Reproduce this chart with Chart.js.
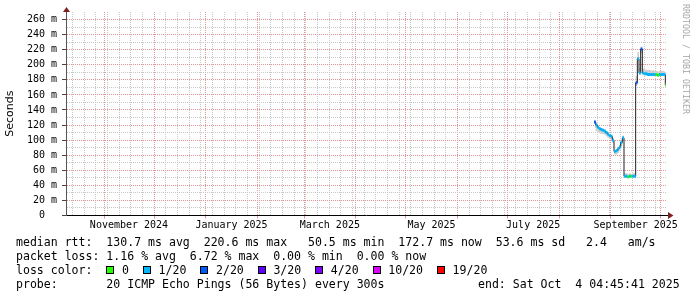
<!DOCTYPE html>
<html>
<head>
<meta charset="utf-8">
<title>Smokeping median RTT</title>
<script src="https://cdn.jsdelivr.net/npm/chart.js@4/dist/chart.umd.min.js"></script>
<style>
html,body{margin:0;padding:0;background:#fff;}
#wrap{position:relative;width:697px;height:297px;overflow:hidden;background:#fff;}
#chart{position:absolute;left:0;top:0;}
.ln{position:absolute;left:16px;font-family:"DejaVu Sans Mono",monospace;font-size:11.55px;line-height:14px;white-space:pre;color:#000;}
.box{display:inline-block;width:6px;height:6px;border:1px solid #000;margin-right:7.7px;}
#wm{position:absolute;left:691px;top:4px;transform-origin:0 0;transform:rotate(90deg);font-family:"DejaVu Sans Mono",monospace;font-size:8.3px;line-height:10px;color:#a8a8a8;white-space:pre;}
</style>
</head>
<body>
<div id="wrap">
<canvas id="chart" width="697" height="297"></canvas>
<div class="ln" id="l1" style="top:234.5px"></div>
<div class="ln" id="l2" style="top:248.5px"></div>
<div class="ln" id="l3" style="top:262.5px"></div>
<div class="ln" id="l4" style="top:276.5px"></div>
<div class="ln" id="l4b" style="top:276.5px;left:478px"></div>
<div id="wm">RRDTOOL / TOBI OETIKER</div>
</div>
<script>
// ---------------- data ----------------
const sampleTimes = [
  '2025-08-22T12:00:00Z','2025-08-23T12:00:00Z','2025-08-24T12:00:00Z','2025-08-25T12:00:00Z',
  '2025-08-26T12:00:00Z','2025-08-27T12:00:00Z','2025-08-28T12:00:00Z','2025-08-29T12:00:00Z',
  '2025-08-30T12:00:00Z','2025-08-31T12:00:00Z','2025-09-01T12:00:00Z','2025-09-02T12:00:00Z',
  '2025-09-03T12:00:00Z','2025-09-04T12:00:00Z','2025-09-05T12:00:00Z','2025-09-06T12:00:00Z',
  '2025-09-07T12:00:00Z','2025-09-08T12:00:00Z','2025-09-09T12:00:00Z','2025-09-10T12:00:00Z',
  '2025-09-11T12:00:00Z','2025-09-12T12:00:00Z','2025-09-13T12:00:00Z','2025-09-14T12:00:00Z',
  '2025-09-15T12:00:00Z','2025-09-16T12:00:00Z','2025-09-17T12:00:00Z','2025-09-18T12:00:00Z',
  '2025-09-19T12:00:00Z','2025-09-20T12:00:00Z','2025-09-21T12:00:00Z','2025-09-22T12:00:00Z',
  '2025-09-23T12:00:00Z','2025-09-24T12:00:00Z','2025-09-25T12:00:00Z','2025-09-26T12:00:00Z',
  '2025-09-27T12:00:00Z','2025-09-28T12:00:00Z','2025-09-29T12:00:00Z','2025-09-30T12:00:00Z',
  '2025-10-01T12:00:00Z','2025-10-02T12:00:00Z','2025-10-03T12:00:00Z','2025-10-04T02:00:00Z'
];
const medianMs = [
  124,120,117,115,114,113,112,110,108,106,105,100,
  85,86,88,91,97,103,52,52,51,52,52,52,
  52,176,208,189,221,189,188,188,187,187,187,187,
  187,187,186,187,187,187,187,173
];
const lossPings = [
  2,1,1,1,1,1,1,1,1,1,1,1,
  1,1,1,1,1,1,1,1,0,1,0,1,
  1,2,1,1,2,1,1,1,1,1,1,1,
  1,0,0,1,1,1,1,0
];
const smokeLowMs = [
  116,112,110,109,108,108,107,105,103,102,101,96,
  81,81,83,86,92,99,51,51,50,51,51,51,
  51,172,205,187,215,187,186,186,185,185,185,185,
  185,185,184,185,185,185,185,171
];
const smokeHighMs = [
  127,122,119,117,116,115,114,112,110,108,107,102,
  87,88,91,94,100,106,56,56,55,56,55,56,
  56,185,217,196,224,195,194,193,193,193,192,193,
  192,192,191,192,192,192,191,176
];
const yTickValues = [0,10,20,30,40,50,60,70,80,90,100,110,120,130,140,150,160,170,180,190,200,210,220,230,240,250,260];
const xLabelMonths = ['2024-11','2025-01','2025-03','2025-05','2025-07','2025-09'];
const xTickLabels = ['November 2024','January 2025','March 2025','May 2025','July 2025','September 2025'];
const lossLabels = ['0','1/20','2/20','3/20','4/20','10/20','19/20'];
const lossThresholds = [0,1,2,3,4,10,19];
const lossColors = ['#26ff00','#00b8ff','#0059ff','#5e00ff','#7e00ff','#dd00ff','#ff0000'];
const rangeEnd = '2025-10-04T04:45:41Z';
const rangeDays = 360;
const yMaxMs = 270;
const legendLines = [
  'median rtt:  130.7 ms avg  220.6 ms max   50.5 ms min  172.7 ms now  53.6 ms sd   2.4   am/s',
  'packet loss: 1.16 % avg  6.72 % max  0.00 % min  0.00 % now',
  'loss color:  ',
  'probe:       20 ICMP Echo Pings (56 Bytes) every 300s',
  'end: Sat Oct  4 04:45:41 2025'
];

// ---------------- styles ----------------
const DAY = 86400000;
const END = Date.parse(rangeEnd);
const START = END - rangeDays * DAY;
const GRID_MINOR = '#c8c8c8';
const GRID_MAJOR = '#e39595';
const MONO = "'DejaVu Sans Mono', monospace";
const CLEAR = 'rgba(0,0,0,0)';

const T = sampleTimes.map(s => Date.parse(s));
function lossColorFor(n) {
  let c = lossColors[0];
  lossThresholds.forEach((t, i) => { if (n >= t) c = lossColors[i]; });
  return c;
}

// each sample covers the interval between the midpoints to its neighbours
const bandPoints = [];
T.forEach((t, i) => {
  const left = i > 0 ? (T[i - 1] + t) / 2 : t - (T[i + 1] - t) / 2;
  const right = i < T.length - 1 ? (t + T[i + 1]) / 2 : Math.min(END, t + (t - T[i - 1]) / 2);
  bandPoints.push({ x: left, y: medianMs[i] }, { x: right, y: medianMs[i] }, { x: right, y: null });
});

function buildXTicks(scale) {
  const ticks = [];
  const d0 = new Date(START);
  for (let d = Date.UTC(d0.getUTCFullYear(), d0.getUTCMonth(), d0.getUTCDate()); d <= END; d += DAY) {
    if (d >= START && new Date(d).getUTCDay() === 0) ticks.push({ value: d, kind: 'week', text: '' });
  }
  let y = d0.getUTCFullYear(), m = d0.getUTCMonth();
  for (let k = 0; k < 15; k++) {
    const ms = Date.UTC(y, m, 1), me = Date.UTC(y, m + 1, 1);
    if (ms >= START && ms <= END) ticks.push({ value: ms, kind: 'month', text: '' });
    const li = xLabelMonths.indexOf(new Date(ms).toISOString().slice(0, 7));
    if (li >= 0) {
      const mid = (ms + me) / 2;
      if (mid >= START && mid <= END) ticks.push({ value: mid, kind: 'label', text: xTickLabels[li] });
    }
    m++; if (m > 11) { m = 0; y++; }
  }
  ticks.sort((a, b) => a.value - b.value || (a.kind === 'month' ? 1 : -1));
  scale.ticks = ticks;
}

const arrows = {
  id: 'rrdArrows',
  afterDraw(chart) {
    const { ctx, chartArea: a } = chart;
    ctx.save();
    const ax = Math.round(a.left) + 0.5;
    const ay = Math.floor(a.bottom) + 0.5;
    ctx.strokeStyle = '#000';
    ctx.lineWidth = 1;
    ctx.beginPath();
    ctx.moveTo(a.right, ay); ctx.lineTo(a.right + 3, ay);
    ctx.stroke();
    ctx.fillStyle = '#801f1f';
    ctx.beginPath();
    ctx.moveTo(ax, a.top - 5); ctx.lineTo(ax + 3.5, a.top); ctx.lineTo(ax - 3.5, a.top); ctx.closePath();
    ctx.fill();
    ctx.beginPath();
    ctx.moveTo(a.right + 7.5, ay); ctx.lineTo(a.right + 2, ay - 3.5); ctx.lineTo(a.right + 2, ay + 3.5); ctx.closePath();
    ctx.fill();
    ctx.restore();
  }
};

new Chart(document.getElementById('chart'), {
  type: 'line',
  data: {
    datasets: [
      {
        label: 'smoke low', order: 4,
        data: T.map((t, i) => ({ x: t, y: smokeLowMs[i] })),
        borderColor: CLEAR, borderWidth: 0, pointRadius: 0, stepped: 'middle', fill: false
      },
      {
        label: 'smoke high', order: 3,
        data: T.map((t, i) => ({ x: t, y: smokeHighMs[i] })),
        borderColor: CLEAR, borderWidth: 0, pointRadius: 0, stepped: 'middle',
        fill: '-1', backgroundColor: '#cfcfcf'
      },
      {
        label: 'median', order: 2,
        data: T.map((t, i) => ({ x: t, y: medianMs[i] })),
        borderColor: '#202020', borderWidth: 1, pointRadius: 0, stepped: 'middle', fill: false
      },
      {
        label: 'loss colour', order: 1,
        data: bandPoints,
        borderColor: lossColors[1], borderWidth: 3, borderCapStyle: 'butt',
        pointRadius: 0, fill: false, spanGaps: false,
        segment: { borderColor: c => lossColorFor(lossPings[Math.floor(c.p0DataIndex / 3)]) }
      }
    ]
  },
  options: {
    responsive: false,
    animation: false,
    events: [],
    layout: { padding: { left: 0, right: 31, top: 12, bottom: 61.5 } },
    plugins: { legend: { display: false }, tooltip: { enabled: false } },
    scales: {
      x: {
        type: 'linear', min: START, max: END, offset: false,
        afterBuildTicks: buildXTicks,
        afterFit: s => { s.height = 20; },
        border: { display: true, color: '#000', width: 1, dash: [1, 1] },
        grid: {
          offset: false, drawTicks: true, tickLength: 3,
          color: c => c.tick && c.tick.kind === 'month' ? GRID_MAJOR : (c.tick && c.tick.kind === 'week' ? GRID_MINOR : CLEAR),
          tickColor: c => c.tick && c.tick.kind === 'month' ? GRID_MAJOR : CLEAR
        },
        ticks: {
          autoSkip: false, maxRotation: 0, minRotation: 0, padding: 1,
          color: '#000', font: { family: MONO, size: 10 },
          callback: (v, i, ticks) => ticks[i].text || ''
        }
      },
      y: {
        type: 'linear', min: 0, max: yMaxMs,
        afterBuildTicks: s => { s.ticks = yTickValues.map(v => ({ value: v })); },
        afterFit: s => { s.width = 66; },
        border: { display: true, color: '#555', width: 1, dash: [1, 1] },
        grid: {
          drawTicks: true, tickLength: 4,
          color: c => (c.tick && c.tick.value % 20 === 0) ? GRID_MAJOR : GRID_MINOR,
          tickColor: c => (c.tick && c.tick.value % 20 === 0) ? '#444' : CLEAR
        },
        ticks: {
          autoSkip: false, padding: 5, color: '#000', font: { family: MONO, size: 10 },
          callback: v => v % 20 !== 0 ? '' : (v === 0 ? '0  ' : v + ' m')
        },
        title: {
          display: true, text: 'Seconds', color: '#000',
          font: { family: "'DejaVu Sans', sans-serif", size: 11 },
          padding: { top: 4, bottom: 0 }
        }
      }
    }
  },
  plugins: [arrows]
});

// ---------------- legend text ----------------
document.getElementById('l1').textContent = legendLines[0];
document.getElementById('l2').textContent = legendLines[1];
const l3 = document.getElementById('l3');
l3.appendChild(document.createTextNode(legendLines[2]));
lossLabels.forEach((lab, i) => {
  const b = document.createElement('span');
  b.className = 'box';
  b.style.background = lossColors[i];
  l3.appendChild(b);
  l3.appendChild(document.createTextNode(lab + (i < lossLabels.length - 1 ? '  ' : '')));
});
document.getElementById('l4').textContent = legendLines[3];
document.getElementById('l4b').textContent = legendLines[4];
</script>
</body>
</html>
